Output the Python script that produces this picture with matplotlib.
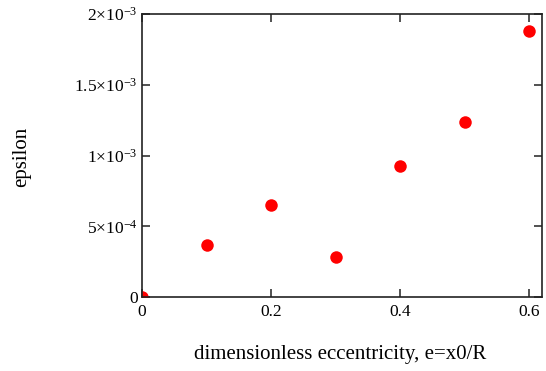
import matplotlib
matplotlib.use('Agg')
import matplotlib.pyplot as plt
from matplotlib.ticker import FixedLocator, FixedFormatter

plt.rcParams['font.family'] = 'Liberation Serif'
plt.rcParams['mathtext.fontset'] = 'custom'
plt.rcParams['mathtext.rm'] = 'Liberation Serif'
plt.rcParams['mathtext.it'] = 'Liberation Serif'

# data
ecc = [0.0, 0.1, 0.2, 0.3, 0.4, 0.5, 0.6]
eps = [0.0, 3.7e-4, 6.5e-4, 2.83e-4, 9.26e-4, 1.237e-3, 1.878e-3]

x_ticks = [0, 0.2, 0.4, 0.6]
x_labels = ['0', '0.2', '0.4', '0.6']
y_ticks = [0, 5e-4, 1e-3, 1.5e-3, 2e-3]
y_labels = ['0', '5×10$^{-4}$', '1×10$^{-3}$', '1.5×10$^{-3}$', '2×10$^{-3}$']

fig = plt.figure(figsize=(5.46, 3.71), dpi=100)
ax = fig.add_axes([142/546, 1 - 297/371, 400/546, 283/371])

ax.plot(ecc, eps, 'o', color='#ff0000', markersize=9, markeredgewidth=0)

ax.set_xlim(0, 0.62)
ax.set_ylim(0, 2e-3)
ax.xaxis.set_major_locator(FixedLocator(x_ticks))
ax.xaxis.set_major_formatter(FixedFormatter(x_labels))
ax.yaxis.set_major_locator(FixedLocator(y_ticks))
ax.yaxis.set_major_formatter(FixedFormatter(y_labels))
ax.tick_params(direction='in', length=6, width=1.2, top=True, right=True,
               labelsize=12.5, color='#333333')
ax.tick_params(axis='x', pad=5)
ax.tick_params(axis='y', pad=3)
for s in ax.spines.values():
    s.set_linewidth(1.2)
    s.set_color('#222222')

fig.text(340/546, 1 - 355/371, 'dimensionless eccentricity, e=x0/R',
         ha='center', va='center', fontsize=15)
fig.text(22/546, 1 - 157/371, 'epsilon', ha='center', va='center',
         rotation=90, fontsize=15)

fig.savefig('out.png', dpi=100)
